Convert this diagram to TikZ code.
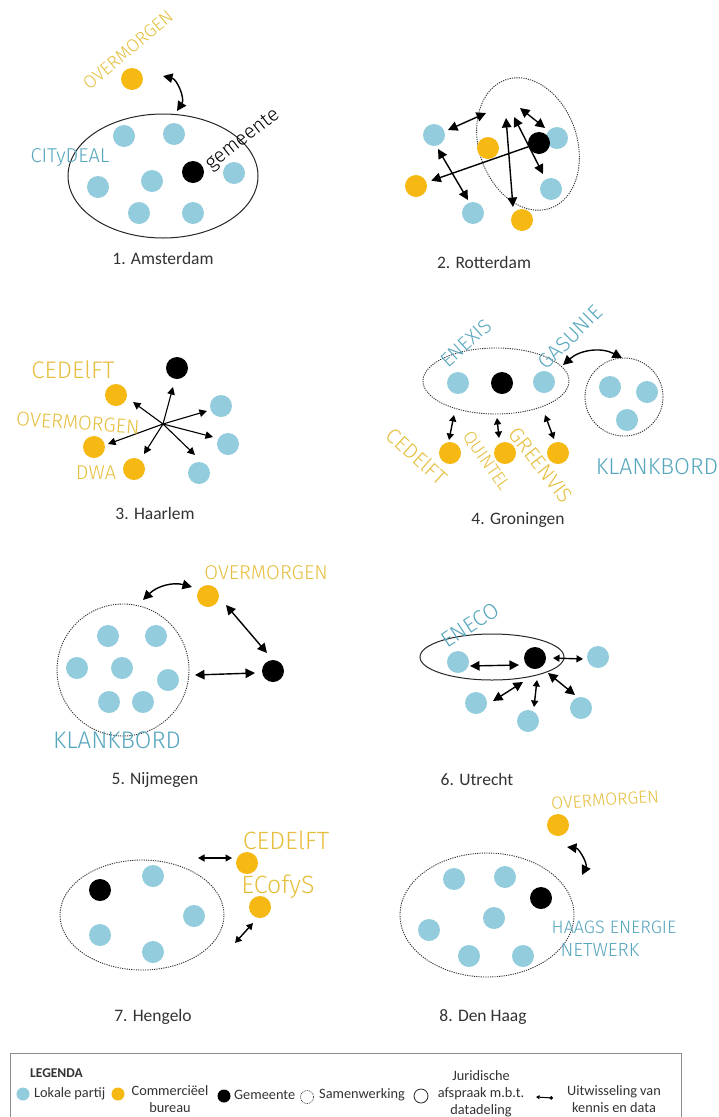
\documentclass[tikz,border=0pt]{standalone}
\usepackage{fontspec}
\setmainfont{Carlito}
\newfontfamily\hand{Fira Sans Light}
\usetikzlibrary{shapes.geometric,arrows.meta}
\definecolor{lok}{HTML}{93CDDD}
\definecolor{com}{HTML}{F6B913}
\definecolor{hblue}{HTML}{56A6BE}
\definecolor{hyel}{HTML}{E6BF3E}
\definecolor{captc}{HTML}{333333}
\tikzset{
  dotb/.style={circle, fill=lok, minimum size=22pt, inner sep=0pt},
  doto/.style={circle, fill=com, minimum size=22pt, inner sep=0pt},
  dotk/.style={circle, fill=black, minimum size=22pt, inner sep=0pt},
  legal/.style={ellipse, draw=black!85, line width=1pt, inner sep=0pt},
  samen/.style={ellipse, draw=black!80, dash pattern=on 1.2pt off 1.1pt, line width=0.9pt, inner sep=0pt},
  darr/.style={{Triangle[length=9.5pt,width=9.5pt]}-{Triangle[length=9.5pt,width=9.5pt]}, line width=1.4pt},
  darrs/.style={{Triangle[length=6.5pt,width=7pt]}-{Triangle[length=6.5pt,width=7pt]}, line width=1.4pt},
  sarr/.style={-{Triangle[length=7.5pt,width=7.5pt]}, line width=1.1pt},
  captxt/.style={font=\fontsize{17.5}{20}\selectfont, text=captc},
  hw/.style={font=\hand\fontsize{#1}{#1}\selectfont, inner sep=0pt},
  legtxt/.style={font=\fontsize{14.3}{17}\selectfont, text=captc, inner sep=0pt},
  ldot/.style={circle, minimum size=13pt, inner sep=0pt},
}
\begin{document}
\begin{tikzpicture}[x=1pt,y=-1pt]
\useasboundingbox (0,0) rectangle (718,1117);
\fill[white] (0,0) rectangle (718,1117);

% ---------- 1. Amsterdam
\node[legal, minimum width=190pt, minimum height=124pt] (p1e) at (163,176) {};
\node[doto] (p1o) at (132,79) {};
\node[dotb] (p1b1) at (124,136) {};
\node[dotb] (p1b2) at (174,134) {};
\node[dotb] (p1b3) at (98,187) {};
\node[dotb] (p1b4) at (152,181) {};
\node[dotb] (p1b5) at (139,213) {};
\node[dotb] (p1b6) at (193,213) {};
\node[dotb] (p1b7) at (234,173) {};
\node[dotk] (p1k) at (193,172) {};
\coordinate (p1s) at (163,76);
\coordinate (p1t) at (177,111);
\draw[darr] (p1s) to[bend left=55] (p1t);
\node[hw=18, text=hyel, rotate=40] (p1lo) at (128,50) {OVERMORGEN};
\node[hw=20, text=black, rotate=38] (p1lg) at (243,140) {gemeente};
\node[hw=20, text=hblue] (p1lc) at (70,158) {CITyDEAL};
\node[captxt] (p1cap) at (163,258) {1. Amsterdam};

% ---------- 2. Rotterdam
\node[samen, minimum width=98pt, minimum height=136pt, rotate=19] (p2e) at (528,144) {};
\node[dotb] (p2b1) at (434,135) {};
\node[doto] (p2o1) at (488,148) {};
\node[dotb] (p2b2) at (557,138) {};
\node[dotk] (p2k) at (539,143) {};
\node[doto] (p2o2) at (416,186) {};
\node[dotb] (p2b3) at (551,189) {};
\node[dotb] (p2b4) at (473,213) {};
\node[doto] (p2o3) at (522,220) {};
\coordinate (p2a1) at (448,130); \coordinate (p2a2) at (486,113);
\coordinate (p2c1) at (520,108); \coordinate (p2c2) at (545,128);
\coordinate (p2d1) at (438,149); \coordinate (p2d2) at (468,200);
\coordinate (p2e1) at (506,118); \coordinate (p2e2) at (513,207);
\coordinate (p2f1) at (514,117); \coordinate (p2f2) at (543,174);
\draw[darr] (p2a1) -- (p2a2);
\draw[darr] (p2c1) -- (p2c2);
\draw[darr] (p2d1) -- (p2d2);
\draw[darr] (p2e1) -- (p2e2);
\draw[darr] (p2f1) -- (p2f2);
\draw[line width=1.4pt, -{Triangle[length=9.5pt,width=9.5pt]}, shorten >=5pt] (p2k) -- (p2o2);
\node[captxt] (p2cap) at (484,262) {2. Rotterdam};

% ---------- 3. Haarlem
\node[dotk] (p3k) at (177,368) {};
\node[doto] (p3o1) at (116,395) {};
\node[doto] (p3o2) at (94,447) {};
\node[doto] (p3o3) at (134,469) {};
\node[dotb] (p3b1) at (221,406) {};
\node[dotb] (p3b2) at (228,444) {};
\node[dotb] (p3b3) at (199,473) {};
\coordinate (p3h) at (163,424);
\coordinate (p3e1) at (173,387);
\coordinate (p3e2) at (133,402);
\coordinate (p3e3) at (108,444);
\coordinate (p3e4) at (144,454);
\coordinate (p3e5) at (195,455);
\coordinate (p3e6) at (213,437);
\coordinate (p3e7) at (207,411);
\foreach \e in {p3e1,p3e2,p3e3,p3e4,p3e5,p3e6,p3e7}
  \draw[sarr] (p3h) -- (\e);
\node[hw=24, text=hyel] (p3l1) at (73,370) {CEDElFT};
\node[hw=20, text=hyel, rotate=-4] (p3l2) at (78,423) {OVERMORGEN};
\node[hw=20, text=hyel] (p3l3) at (96,473) {DWA};
\node[captxt] (p3cap) at (155,513) {3. Haarlem};

% ---------- 4. Groningen
\node[samen, minimum width=146pt, minimum height=66pt] (p4e) at (496,381) {};
\node[samen, circle, minimum size=78pt] (p4c) at (624,397) {};
\node[dotb] (p4b1) at (458,383) {};
\node[dotk] (p4k) at (502,383) {};
\node[dotb] (p4b2) at (544,382) {};
\node[dotb] (p4b3) at (610,387) {};
\node[dotb] (p4b4) at (647,392) {};
\node[dotb] (p4b5) at (627,420) {};
\node[doto] (p4o1) at (450,453) {};
\node[doto] (p4o2) at (505,453) {};
\node[doto] (p4o3) at (558,453) {};
\coordinate (p4s) at (563,365); \coordinate (p4t) at (622,358);
\draw[darr] (p4s) to[bend left=35] (p4t);
\coordinate (p4a1) at (454,415); \coordinate (p4a2) at (449,440);
\coordinate (p4b1e) at (497,418); \coordinate (p4b2e) at (499,438);
\coordinate (p4c1) at (545,415); \coordinate (p4c2) at (554,439);
\draw[darrs] (p4a1) -- (p4a2);
\draw[darrs] (p4b1e) -- (p4b2e);
\draw[darrs] (p4c1) -- (p4c2);
\node[hw=20, text=hblue, rotate=42] (p4l1) at (466,343) {ENEXIS};
\node[hw=21, text=hblue, rotate=45] (p4l2) at (570,337) {GASUNIE};
\node[hw=23, text=hblue] (p4l3) at (657,467) {KLANKBORD};
\node[hw=21, text=hyel, rotate=-42] (p4l4) at (417,456) {CEDElFT};
\node[hw=18, text=hyel, rotate=-55] (p4l5) at (486,461) {QUINTEL};
\node[hw=21, text=hyel, rotate=-52] (p4l6) at (541,465) {GREENVIS};
\node[captxt] (p4cap) at (518,520) {4. Groningen};

% ---------- 5. Nijmegen
\node[samen, circle, minimum size=132pt] (p5c) at (123,670) {};
\node[dotb] (p5b1) at (108,636) {};
\node[dotb] (p5b2) at (156,636) {};
\node[dotb] (p5b3) at (77,668) {};
\node[dotb] (p5b4) at (122,668) {};
\node[dotb] (p5b5) at (168,680) {};
\node[dotb] (p5b6) at (109,702) {};
\node[dotb] (p5b7) at (143,702) {};
\node[doto] (p5o) at (208,596) {};
\node[dotk] (p5k) at (273,671) {};
\coordinate (p5a1) at (143,600); \coordinate (p5a2) at (192,587);
\coordinate (p5b1e) at (226,605); \coordinate (p5b2e) at (267,653);
\coordinate (p5c1) at (195,675); \coordinate (p5c2) at (255,673);
\draw[darr] (p5a1) to[bend left=30] (p5a2);
\draw[darr] (p5b1e) -- (p5b2e);
\draw[darr] (p5c1) -- (p5c2);
\node[hw=20, text=hyel] (p5l1) at (266,573) {OVERMORGEN};
\node[hw=24, text=hblue] (p5l2) at (117,740) {KLANKBORD};
\node[captxt] (p5cap) at (155,780) {5. Nijmegen};

% ---------- 6. Utrecht
\node[legal, minimum width=144pt, minimum height=46pt] (p6e) at (492,657) {};
\node[dotb] (p6b1) at (458,662) {};
\node[dotk] (p6k) at (535,658) {};
\node[dotb] (p6b2) at (598,657) {};
\node[dotb] (p6b3) at (476,703) {};
\node[dotb] (p6b4) at (528,721) {};
\node[dotb] (p6b5) at (581,708) {};
\coordinate (p6a1) at (470,666); \coordinate (p6a2) at (519,665);
\coordinate (p6c1) at (553,658); \coordinate (p6c2) at (583,659);
\coordinate (p6d1) at (523,682); \coordinate (p6d2) at (493,701);
\coordinate (p6e1) at (537,680); \coordinate (p6e2) at (534,707);
\coordinate (p6f1) at (548,673); \coordinate (p6f2) at (575,695);
\draw[darr] (p6a1) -- (p6a2);
\draw[darrs] (p6c1) -- (p6c2);
\draw[darr] (p6d1) -- (p6d2);
\draw[darrs] (p6e1) -- (p6e2);
\draw[darr] (p6f1) -- (p6f2);
\node[hw=22, text=hblue, rotate=33] (p6l1) at (470,625) {ENECO};
\node[captxt] (p6cap) at (477,779) {6. Utrecht};

% ---------- 7. Hengelo
\node[samen, minimum width=164pt, minimum height=110pt] (p7e) at (142,915) {};
\node[dotk] (p7k) at (100,890) {};
\node[dotb] (p7b1) at (153,876) {};
\node[dotb] (p7b2) at (194,916) {};
\node[dotb] (p7b3) at (100,935) {};
\node[dotb] (p7b4) at (153,952) {};
\node[doto] (p7o1) at (247,863) {};
\node[doto] (p7o2) at (260,907) {};
\coordinate (p7a1) at (198,858); \coordinate (p7a2) at (232,858);
\coordinate (p7b1e) at (235,943); \coordinate (p7b2e) at (253,923);
\draw[darrs] (p7a1) -- (p7a2);
\draw[darrs] (p7b1e) -- (p7b2e);
\node[hw=25, text=hyel] (p7l1) at (286,840) {CEDElFT};
\node[hw=25, text=hyel] (p7l2) at (278,887) {ECofyS};
\node[captxt] (p7cap) at (153,1017) {7. Hengelo};

% ---------- 8. Den Haag
\node[samen, minimum width=174pt, minimum height=124pt] (p8e) at (487,915) {};
\node[dotb] (p8b1) at (454,879) {};
\node[dotb] (p8b2) at (505,877) {};
\node[dotb] (p8b3) at (494,918) {};
\node[dotb] (p8b4) at (429,930) {};
\node[dotb] (p8b5) at (469,956) {};
\node[dotb] (p8b6) at (523,956) {};
\node[dotk] (p8k) at (541,898) {};
\node[doto] (p8o) at (558,825) {};
\coordinate (p8s) at (567,847); \coordinate (p8t) at (582,875);
\draw[darr] (p8s) to[bend left=55] (p8t);
\node[hw=17.5, text=hyel, rotate=4] (p8l1) at (605,800) {OVERMORGEN};
\node[hw=18, text=hblue] (p8l2) at (614,927) {HAAGS ENERGIE};
\node[hw=19, text=hblue] (p8l3) at (600,950) {NETWERK};
\node[captxt] (p8cap) at (483,1017) {8. Den Haag};

% ---------- legend
\draw[black!45, line width=0.8pt] (10,1053) rectangle (681,1140);
\node[legtxt, font=\bfseries\fontsize{13.5}{16}\selectfont, anchor=west] (lgt) at (30,1073) {LEGENDA};
\node[ldot, fill=lok] (lg1) at (23,1094) {};
\node[legtxt, anchor=west] (lg1t) at (34,1094) {Lokale partij};
\node[ldot, fill=com] (lg2) at (118,1094) {};
\node[legtxt, align=center] (lg2t) at (170,1099) {Commerciëel\\bureau};
\node[ldot, fill=black] (lg3) at (224,1096) {};
\node[legtxt, anchor=west] (lg3t) at (234,1095) {Gemeente};
\node[ldot, draw=black!80, dash pattern=on 0.9pt off 0.9pt, line width=0.7pt] (lg4) at (307,1097) {};
\node[legtxt, anchor=west] (lg4t) at (319,1095) {Samenwerking};
\node[ldot, draw=black!85, line width=0.8pt, minimum size=14pt] (lg5) at (421,1096) {};
\node[legtxt, align=center] (lg5t) at (481,1094) {Juridische\\afspraak m.b.t.\\datadeling};
\coordinate (lg6a) at (536,1097); \coordinate (lg6b) at (553,1098);
\draw[{Triangle[length=3.5pt,width=4pt]}-{Circle[length=3.5pt]}, line width=1pt] (lg6a) -- (lg6b);
\node[legtxt, align=center] (lg6t) at (614,1099) {Uitwisseling van\\kennis en data};
\end{tikzpicture}
\end{document}
